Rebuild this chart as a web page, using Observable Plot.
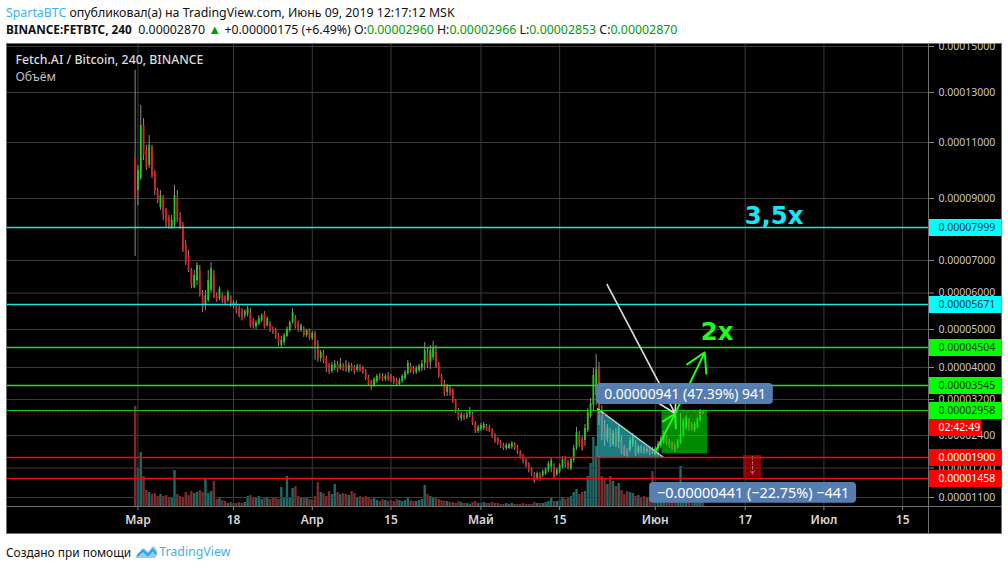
<!DOCTYPE html>
<html lang="ru">
<head>
<meta charset="utf-8">
<script src="https://cdn.jsdelivr.net/npm/d3@7"></script>
<script src="https://cdn.jsdelivr.net/npm/@observablehq/plot@0.6"></script>
<style>
  html, body { margin: 0; padding: 0; background: #fff; }
  body { width: 1008px; height: 570px; overflow: hidden; font-family: "Noto Sans", sans-serif; color: #111; position: relative; }
  #head { height: 43px; box-sizing: border-box; padding: 4px 0 0 6px; font-size: 12.35px; line-height: 17px; white-space: nowrap; }
  #head .blue { color: #3fb0f0; }
  #head b { font-weight: 700; font-size: 11.8px; }
  #head .g { color: #00a000; }
  #head .tri { color: #00a000; font-size: 13px; }
  #pane { position: relative; width: 1008px; height: 491px; }
  #pane .bg { position: absolute; left: 6px; top: 0; width: 996px; height: 491px; box-sizing: border-box; background: #000; border: 1px solid #707070; }
  #pane svg { position: absolute; left: 0; top: 0; background: transparent; }
  #pane .vline { position: absolute; left: 928px; top: 0; width: 1px; height: 491px; background: #707070; }
  #pane .hline { position: absolute; left: 6px; top: 463px; width: 996px; height: 1px; background: #707070; }
  #foot { position: absolute; left: 6px; top: 543px; font-size: 11.9px; line-height: 18px; display: flex; align-items: center; white-space: nowrap; }
  #foot .tv { color: #3fb0f0; font-size: 12.4px; }
  #foot svg { margin: 0 1px 0 3px; }
</style>
</head>
<body>
<div id="head">
  <div><span class="blue">SpartaBTC</span> опубликовал(а) на TradingView.com, Июнь 09, 2019 12:17:12 MSK</div>
  <div><b>BINANCE:FETBTC, 240</b>&nbsp; 0.00002870 <span class="tri">▲</span> +0.00000175 (+6.49%) O:<span class="g">0.00002960</span> H:<span class="g">0.00002966</span> L:<span class="g">0.00002853</span> C:<span class="g">0.00002870</span></div>
</div>
<div id="pane"><div class="bg"></div></div>
<div id="foot">Создано при помощи
  <svg width="24" height="14" viewBox="0 0 24 14"><path d="M1 13 L8 4 Q9.5 2.5 11 4 L14 7 L18 2 Q19.5 .8 21 2.5 L23.5 7 Q24 10 21 13 Z" fill="#8ccdf2"/><path d="M3 11 L9 5.5 L14 10 L19 4.5 L22 9" fill="none" stroke="#2f9fe3" stroke-width="2"/></svg>
  <span class="tv">TradingView</span>
</div>
<script>
// All prices are in satoshi (1e-8 BTC). One bar per 12 hours.
const opens = [
10470,9290,9710,11680,10720,10180,10830,9930,9290,8690,
9040,8590,8310,8000,8070,9000,8310,8070,7450,7150,
6690,6170,6380,6690,5920,5650,5780,6080,6540,5920,
5840,5920,5890,5780,5890,5650,5700,5560,5510,5370,
5420,5450,5230,5070,5150,5230,5420,5100,5150,5010,
4970,4835,4560,4640,4810,4970,5180,5290,5150,4970,
5010,4835,4970,4750,4890,4560,4230,4350,4230,4050,
3900,3975,4080,3975,4030,4080,3900,4050,4000,3925,
4030,3975,3900,3750,3620,3545,3645,3800,3775,3700,
3800,3775,3725,3670,3570,3645,3725,3850,4030,3975,
3875,3925,3975,4100,4350,4130,4250,4380,4080,3775,
3595,3375,3470,3425,3180,2958,2780,2845,2800,2845,
2870,2670,2490,2535,2555,2600,2580,2510,2400,2310,
2240,2175,2105,2105,2130,2195,2130,2015,1925,1840,
1760,1655,1545,1458,1545,1525,1570,1635,1720,1720,
1545,1610,1720,1880,1800,1680,1840,2105,2400,2330,
2285,2510,2825,3070,3300,3925,2958,2625,2330,2465,
2195,2465,2240,2285,2130,2060,2060,2195,2220,2015,
2130,2105,2040,2085,2085,1990,2085,2150,2240,2355,
2265,2220,2175,2130,2240,2400,2555,2735,2645,2510,
2580,2735,2960];
const closes = [
9040,10000,11680,10540,10110,10900,9820,9290,8930,9110,
8420,8210,8030,8240,9110,8240,7970,7300,6940,6690,
6230,6540,6850,5930,5560,5920,6380,6750,5860,5780,
6130,5780,5700,6000,5650,5730,5510,5370,5310,5480,
5560,5100,5070,5180,5290,5370,5040,5290,4970,4920,
4780,4615,4700,4835,5010,5180,5450,5070,4970,5100,
4835,4970,4750,4890,4560,4230,4380,4150,3975,3875,
4050,4080,3925,4080,3950,3925,4050,3950,3875,4030,
3925,3875,3725,3570,3470,3700,3775,3725,3700,3775,
3700,3670,3620,3570,3670,3775,3875,4100,3900,3875,
3975,4030,4100,4430,4050,4430,4504,4030,3775,3595,
3325,3520,3350,3155,2935,2780,2870,2780,2890,2958,
2670,2490,2580,2625,2645,2510,2490,2375,2265,2220,
2150,2105,2175,2195,2220,2105,2015,1900,1820,1740,
1635,1545,1400,1570,1458,1610,1655,1780,1840,1480,
1655,1740,1860,1760,1700,1860,2105,2465,2175,2085,
2555,2915,3110,3800,3950,2800,2465,2285,2555,2195,
2445,2175,2555,2015,1945,1925,2285,2355,1970,2130,
2040,2015,2085,1990,2015,2105,2195,2285,2420,2220,
2150,2105,2060,2265,2420,2735,2800,2555,2535,2645,
2755,2935,2870];
const highs = [
13960,10180,12480,11960,10900,11280,10900,10000,9360,9290,
9110,8660,8420,8420,9470,9290,8520,8170,7600,7300,
6750,6690,6940,6850,6080,6080,6690,6940,6690,6000,
6190,6000,5920,6080,5920,5780,5780,5650,5560,5530,
5620,5560,5290,5230,5370,5420,5480,5340,5210,5070,
5040,4890,4810,4890,5070,5230,5560,5370,5230,5150,
5070,5010,5010,4945,4945,4700,4430,4430,4280,4100,
4130,4180,4150,4230,4100,4180,4130,4100,4050,4080,
4080,4030,3950,3800,3670,3750,3825,3850,3850,3825,
3875,3825,3775,3725,3725,3825,3925,4180,4100,4030,
4030,4080,4180,4640,4480,4560,4670,4560,4130,3825,
3670,3570,3520,3470,3200,3000,2915,2890,2935,3025,
2915,2715,2625,2670,2690,2645,2625,2555,2445,2355,
2285,2220,2220,2220,2265,2240,2175,2060,1970,1880,
1800,1700,1590,1610,1590,1655,1700,1820,1900,1780,
1700,1780,1925,1925,1840,1900,2175,2580,2490,2375,
2645,3000,3225,3975,4330,4130,3070,2735,2645,2555,
2510,2555,2625,2375,2175,2105,2355,2445,2285,2175,
2175,2150,2130,2130,2130,2150,2265,2375,2490,2400,
2310,2265,2220,2310,2890,2780,2845,2780,2690,2690,
2800,2980,2966];
const lows = [
7120,8760,9640,10360,10000,10070,9710,9110,8830,8590,
8240,7970,7940,7940,8000,8170,7940,7240,6850,6630,
6130,6130,6230,5880,5450,5510,5730,6000,5840,5730,
5780,5700,5650,5730,5590,5560,5420,5310,5230,5290,
5340,5040,5010,5000,5100,5180,5010,5070,4920,4860,
4725,4530,4504,4560,4780,4920,5150,5010,4920,4920,
4780,4780,4700,4700,4180,4130,4130,4100,3875,3825,
3850,3925,3875,3925,3900,3875,3850,3900,3825,3875,
3875,3825,3670,3520,3425,3495,3595,3670,3645,3645,
3645,3620,3570,3520,3520,3595,3670,3800,3850,3825,
3825,3875,3900,3925,3975,3950,4180,3975,3725,3545,
3275,3275,3275,3110,2890,2735,2710,2735,2755,2800,
2625,2445,2445,2490,2510,2490,2465,2330,2220,2175,
2105,2060,2060,2085,2085,2060,1970,1860,1780,1700,
1590,1500,1365,1420,1400,1480,1525,1590,1590,1440,
1500,1570,1680,1700,1655,1635,1800,2060,2130,2040,
2150,2465,2780,2958,3070,2625,2285,2150,2240,2130,
2150,2130,2105,1970,1925,1880,2015,2130,1925,1970,
1990,1970,1990,1945,1970,1945,1945,2105,2195,2175,
2105,2060,2015,2085,2195,2355,2510,2490,2490,2465,
2535,2690,2853];
const volumes = [
100,38,54,30,16,14,12,13,10,12,
10,11,9,8,36,12,10,9,14,11,
15,13,14,16,14,27,13,15,25,7,
8,6,5,3,4,3,3,4,3,4,
10,11,8,9,10,7,9,8,7,8,
9,7,19,9,30,8,18,20,10,9,
8,9,7,6,10,24,14,13,10,15,
12,22,14,12,13,12,11,15,13,9,
10,9,10,9,7,8,6,5,7,6,
5,6,5,7,6,5,6,9,6,5,
5,6,7,21,12,10,8,9,7,6,
5,5,4,4,3,5,4,3,3,2,
4,5,3,3,4,3,3,4,3,3,
2,2,3,2,3,2,2,2,3,2,
2,2,4,3,3,3,4,5,9,5,
5,6,9,7,8,10,14,17,12,14,
15,30,43,69,60,50,30,28,22,30,
25,20,23,16,12,15,14,13,10,11,
9,10,8,8,35,18,12,14,14,12,
9,8,10,12,40,20,14,11,10,9,
8,7,5];

const yTicks = [1100,1700,2400,3200,4000,5000,6000,7000,9000,11000,13000,15000];
const xTickDates = ["2019-03-01","2019-03-18","2019-04-01","2019-04-15","2019-05-01","2019-05-15","2019-06-01","2019-06-17","2019-07-01","2019-07-15"];
const xTickLabels = ["Мар","18","Апр","15","Май","15","Июн","17","Июл","15"];
const cyanLevels = [7999,5671];
const greenLevels = [4504,3545,2958];
const redLevels = [1900,1458];
const lastPrice = 2870;

// y axis of the source is neither linear nor log: scale knots (price → svg pixel)
const priceKnots = [1100,1458,1700,1900,2400,2958,3200,3545,4000,4504,5000,5671,6000,7000,7999,9000,11000,13000,15000];
const pixelKnots = [454,435,424.5,414,392,367,356,342,324,304,286,261,249.5,217,184,155,99,49,3];

const t0 = Date.UTC(2019,2,1);
const day = n => new Date(t0 + n*864e5);
const fmt = v => (v*1e-8).toFixed(8);
const xScale = {type:"utc", domain:[day(-23.2), day(140.6)], range:[7,928]};
const axisEnd = day(153.7);
const axisStart = day(140.6);

const bars = opens.map((o,i)=>({date:day(i*0.5-0.5), o, c:closes[i], h:highs[i], l:lows[i], v:volumes[i]}));
const ups = bars.filter(d=>d.c>=d.o), downs = bars.filter(d=>d.c<d.o);

const fontMain = '"Noto Sans", sans-serif';

// Volume pane, underneath
const volPlot = Plot.plot({
  width:1008, height:491, marginLeft:7, marginRight:80, marginTop:1, marginBottom:28,
  style:{background:"transparent"},
  x:{...xScale, axis:null}, y:{domain:[0,100], range:[463,363], axis:null},
  marks:[
    Plot.ruleX(downs,{x:"date", y1:0, y2:"v", stroke:"#7a2c2c", strokeWidth:2.4}),
    Plot.ruleX(ups,{x:"date", y1:0, y2:"v", stroke:"#1d6a68", strokeWidth:2.4})
  ]
});

// Annotations, in chart units
const triangle = [{x:day(81.7), y1:1900, y2:3000},{x:day(93.5), y1:1900, y2:1900}];
const greenBox = [{x1:day(93.2), x2:day(101.3), y1:1985, y2:2943}];
const redBox = [{x1:day(107.7), x2:day(110.9), y1:1480, y2:1945}];
const redBoxMark = [{x1:day(109.3), y1:1925, x2:day(109.3), y2:1560}];
const arrowGray = [{x1:day(83.45), y1:6260, x2:day(95.55), y2:2890}];
const arrowsGreen = [{x1:day(91.9), y1:2000, x2:day(95.55), y2:2890},{x1:day(95.55), y1:2890, x2:day(100.8), y2:4380}];
const measureUp = [{x1:day(81.55), x2:day(113), y1:3090, y2:3595, tx:day(97.3), ty:3330, text:"0.00000941 (47.39%) 941"}];
const measureDown = [{x1:day(91), x2:day(127.8), y1:990, y2:1383, tx:day(109.4), ty:1180, text:"−0.00000441 (−22.75%) −441"}];
const tagLabels = (vals, bg, fg) => [
  Plot.ruleY(vals,{y:d=>d, x1:axisStart, x2:axisEnd, stroke:bg, strokeWidth:17}),
  Plot.text(vals,{y:d=>d, x:axisStart, text:fmt, dx:10, textAnchor:"start", fill:fg, fontSize:10.5})
];
const levels = (vals, color, w) => Plot.ruleY(vals,{y:d=>d, stroke:color, strokeWidth:w});

const mainPlot = Plot.plot({
  width:1008, height:491, marginLeft:7, marginRight:80, marginTop:1, marginBottom:28,
  style:{background:"transparent", fontFamily:fontMain, overflow:"hidden"},
  x:{...xScale},
  y:{type:"linear", domain:priceKnots, range:pixelKnots},
  marks:[
    Plot.ruleY(yTicks,{y:d=>d, stroke:"#3a3a3a", strokeWidth:1}),
    Plot.ruleX(xTickDates,{x:d=>new Date(d), stroke:"#3a3a3a", strokeWidth:1}),
    Plot.axisY({anchor:"right", ticks:yTicks, tickFormat:fmt, tickSize:5, tickPadding:5, label:null, color:"#c8c8c8", stroke:"#8a8a8a", fontSize:10.5}),
    Plot.axisX({ticks:xTickDates.map(d=>new Date(d)), tickFormat:d=>xTickLabels[xTickDates.indexOf(d.toISOString().slice(0,10))], tickSize:4, tickPadding:5, label:null, color:"#d8d8d8", stroke:"#8a8a8a", fontSize:12, fontWeight:600}),

    Plot.ruleX(bars,{x:"date", y1:"l", y2:"h", stroke:"#8c8c8c", strokeWidth:1}),
    Plot.ruleX(downs,{x:"date", y1:"o", y2:"c", stroke:"#e0201f", strokeWidth:1.8}),
    Plot.ruleX(ups,{x:"date", y1:"o", y2:"c", stroke:"#22cc22", strokeWidth:1.8}),

    Plot.areaY(triangle,{x:"x", y1:"y1", y2:"y2", fill:"#38e0e6", fillOpacity:0.55}),
    Plot.link([{x1:triangle[0].x, y1:3000, x2:triangle[1].x, y2:1900}],{x1:"x1", y1:"y1", x2:"x2", y2:"y2", stroke:"#b4d2d2", strokeWidth:1.4}),
    Plot.rect(greenBox,{x1:"x1", x2:"x2", y1:"y1", y2:"y2", fill:"#00ff00", fillOpacity:0.54}),
    Plot.rect(redBox,{x1:"x1", x2:"x2", y1:"y1", y2:"y2", fill:"#ff0000", fillOpacity:0.5}),
    Plot.arrow(redBoxMark,{x1:"x1", y1:"y1", x2:"x2", y2:"y2", bend:0, stroke:"#b06a6a", strokeWidth:1, headLength:6, strokeDasharray:"3,2"}),

    levels(cyanLevels,"#19e6e6",1.5),
    levels(greenLevels.slice(0,2),"#22e01a",1.5),
    levels(greenLevels.slice(2),"#18c818",1),
    levels(redLevels,"#ee0a0a",1.5),
    Plot.ruleY([lastPrice],{y:d=>d, stroke:"#a01010", strokeWidth:1, strokeOpacity:0.8, strokeDasharray:"1,2"}),

    Plot.arrow(arrowGray,{x1:"x1", y1:"y1", x2:"x2", y2:"y2", bend:0, stroke:"#d8d8d8", strokeWidth:1.7, headLength:18}),
    Plot.arrow(arrowsGreen,{x1:"x1", y1:"y1", x2:"x2", y2:"y2", bend:0, stroke:"#1dfc1d", strokeWidth:2, headLength:16}),

    Plot.rect(measureUp,{x1:"x1", x2:"x2", y1:"y1", y2:"y2", fill:"#5a82b6", fillOpacity:0.96, rx:4}),
    Plot.rect(measureDown,{x1:"x1", x2:"x2", y1:"y1", y2:"y2", fill:"#5a82b6", fillOpacity:0.96, rx:4}),
    Plot.text(measureUp,{x:"tx", y:"ty", text:"text", fill:"#fff", fontSize:13.9}),
    Plot.text(measureDown,{x:"tx", y:"ty", text:"text", fill:"#fff", fontSize:14.4}),

    Plot.text(["3,5x"],{x:day(107.9), y:8380, text:d=>d, textAnchor:"start", fill:"#19e6f5", fontSize:24.4, fontWeight:700, fontFamily:'"DejaVu Sans", sans-serif'}),
    Plot.text(["2x"],{x:day(100.1), y:4920, text:d=>d, textAnchor:"start", fill:"#1dfc1d", fontSize:24.4, fontWeight:700, fontFamily:'"DejaVu Sans", sans-serif'}),

    Plot.text(["Fetch.AI / Bitcoin, 240, BINANCE"],{frameAnchor:"top-left", text:d=>d, dx:8, dy:11, textAnchor:"start", fill:"#dcdcdc", fontSize:12.3, fontWeight:500}),
    Plot.text(["Объём"],{frameAnchor:"top-left", text:d=>d, dx:8, dy:28, textAnchor:"start", fill:"#bdbdbd", fontSize:12.3}),

    ...tagLabels(cyanLevels,"#00ffff","#06383a"),
    ...tagLabels(greenLevels,"#00ff00","#063a06"),
    ...tagLabels(redLevels,"#ff0000","#ffffff"),
    Plot.ruleY([2580],{y:d=>d, x1:axisStart, x2:day(150.1), stroke:"#ff0000", strokeWidth:17}),
    Plot.text(["02:42:49"],{y:2580, x:axisStart, text:d=>d, dx:10, textAnchor:"start", fill:"#fff", fontSize:10.5})
  ]
});

const pane = document.getElementById("pane");
pane.append(volPlot, mainPlot);
for (const c of ["vline","hline"]) { const d = document.createElement("div"); d.className = c; pane.append(d); }
</script>
</body>
</html>
